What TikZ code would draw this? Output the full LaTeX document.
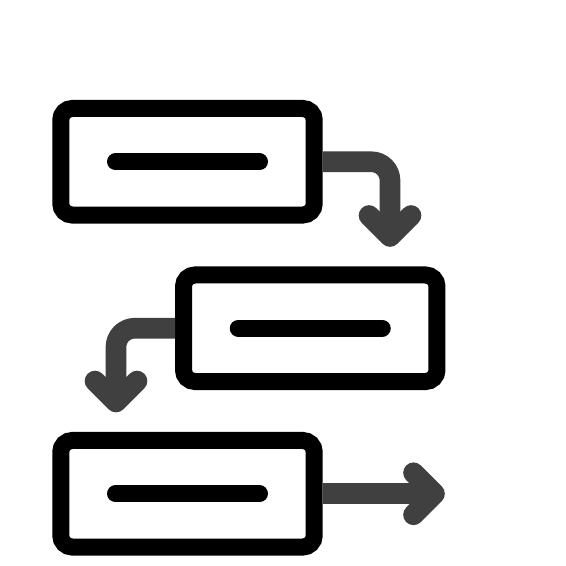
\documentclass[tikz,border=0pt]{standalone}
\usetikzlibrary{calc}
\definecolor{flowgray}{RGB}{64,64,64}
\tikzset{every picture/.style={line width=0.75pt}}
\tikzset{
  stepbox/.style={draw=black,line width=12.75pt,rounded corners=8.6pt,
    minimum width=190.1pt,minimum height=79.9pt,inner sep=0pt},
  stepbar/.style={draw=black,line width=12.75pt,line cap=round},
  flowline/.style={draw=flowgray,line width=15.5pt,line cap=round,line join=round},
}

\begin{document}
\begin{tikzpicture}[x=0.75pt,y=0.75pt,yscale=-1,xscale=1]
\useasboundingbox (0,0) rectangle (566,565);

%Shape: Rounded Rect [id:b1]
\node[stepbox] (b1) at (187.5,161.75) {};
%Shape: Rounded Rect [id:b2]
\node[stepbox] (b2) at (310.25,328.25) {};
%Shape: Rounded Rect [id:b3]
\node[stepbox] (b3) at (187.5,493.75) {};

%Straight Lines [id:bars]
\draw[stepbar] ([xshift=-54pt]b1.center) -- ([xshift=54pt]b1.center);
\draw[stepbar] ([xshift=-54pt]b2.center) -- ([xshift=54pt]b2.center);
\draw[stepbar] ([xshift=-54pt]b3.center) -- ([xshift=54pt]b3.center);

%Arrow tips
\coordinate (t1) at (390,236.5);
\coordinate (t2) at (116,402);
\coordinate (t3) at (434.5,493.75);

%Arrow b1 -> b2
\draw[flowline,rounded corners=14pt,line cap=butt] (b1.east) -| (t1);
\draw[flowline] ($(t1)+(-21,-21)$) -- (t1) -- ($(t1)+(21,-21)$);
%Arrow b2 -> b3
\draw[flowline,rounded corners=14pt,line cap=butt] (b2.west) -| (t2);
\draw[flowline] ($(t2)+(-21,-21)$) -- (t2) -- ($(t2)+(21,-21)$);
%Arrow out of b3
\draw[flowline,line cap=butt] (b3.east) -- (t3);
\draw[flowline] ($(t3)+(-21,-21)$) -- (t3) -- ($(t3)+(-21,21)$);

\end{tikzpicture}
\end{document}
